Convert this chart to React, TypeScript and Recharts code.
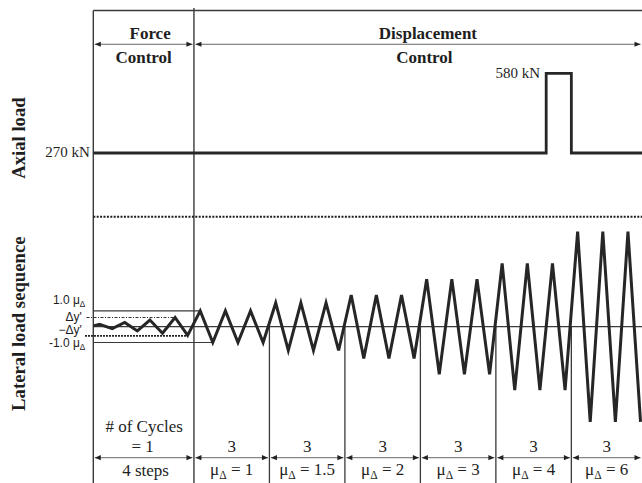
import React from 'react';
import { ComposedChart, Line, XAxis, YAxis, ReferenceLine, ReferenceDot } from 'recharts';

// ---------------- data ----------------
// Force control: 4 single-cycle steps (amplitude in μΔ units)
const forceStepPeaks = [0.15, 0.27, 0.42, 0.58];
const forceStepTroughs = [-0.12, -0.27, -0.41, -0.55];
const forceStart = 0.05;
// Displacement control: ductility levels and cycles per level
const ductilityLevels = [1, 1.5, 2, 3, 4, 6];
const cyclesPerLevel = [3, 3, 3, 3, 3, 3];
const levelLabels = ['1', '1.5', '2', '3', '4', '6'];
const yieldDisp = 0.58; // Δy' (in μΔ units)
// Axial load history (x in cycles, kN)
const axialX = [0, 18, 18, 19, 19, 22];
const axialKN = [270, 270, 580, 580, 270, 270];

// --------- tables built from the data ---------
const lateralData: { x: number; v: number }[] = [{ x: 0, v: forceStart }];
forceStepPeaks.forEach((p, i) => {
  lateralData.push({ x: i + 0.25, v: p });
  lateralData.push({ x: i + 0.75, v: forceStepTroughs[i] });
});
const boundaries: number[] = [0, forceStepPeaks.length];
let cursor = forceStepPeaks.length;
ductilityLevels.forEach((mu, j) => {
  for (let k = 0; k < cyclesPerLevel[j]; k++) {
    lateralData.push({ x: cursor + k + 0.25, v: mu });
    lateralData.push({ x: cursor + k + 0.75, v: -mu });
  }
  cursor += cyclesPerLevel[j];
  boundaries.push(cursor);
});
const axialData = axialX.map((x, i) => ({ x, kn: axialKN[i] }));

// ---------------- layout ----------------
const W = 642;
const H = 483;
const X_DOMAIN: [number, number] = [-3.708, 21.808];
const LAT_DOMAIN: [number, number] = [-9.861, 20.612];
const AX_DOMAIN: [number, number] = [-1013.5, 865.1];
const TOP_V = 19.95; // frame top
const DIV_TOP_V = 20.1;
const SEP_V = 6.94; // dotted separator
const HEADER_V = 17.82;
const FOOT_V = -8.265;
const BOTTOM_V = LAT_DOMAIN[0];
const X_END = X_DOMAIN[1];

const SERIF = '"Liberation Serif", "Times New Roman", serif';
const SANS = '"Liberation Sans", Arial, sans-serif';
const INK = '#262626';
const FRAME = '#3a3a3a';

const arrowShape = (p: any) => {
  const { x1, y1, x2 } = p;
  const a = 1.5;
  const L = 6;
  const h = 2.6;
  const l = Math.min(x1, x2) + a;
  const r = Math.max(x1, x2) - a;
  return (
    <g>
      <line x1={l} y1={y1} x2={r} y2={y1} stroke="#666" strokeWidth={1} />
      <path d={`M${l},${y1} L${l + L},${y1 - h} L${l + L},${y1 + h} Z`} fill="#222" />
      <path d={`M${r},${y1} L${r - L},${y1 - h} L${r - L},${y1 + h} Z`} fill="#222" />
    </g>
  );
};

type TextOpts = {
  dx?: number;
  dy?: number;
  size?: number;
  bold?: boolean;
  anchor?: 'start' | 'middle' | 'end';
  family?: string;
  rotate?: boolean;
};

const textShape = (content: React.ReactNode, o: TextOpts = {}) => (p: any) => {
  const x = p.cx + (o.dx || 0);
  const y = p.cy + (o.dy || 0);
  const common = {
    fontFamily: o.family || SERIF,
    fontSize: o.size || 15,
    fontWeight: o.bold ? 700 : 400,
    fill: '#1e1e1e',
    textAnchor: o.anchor || 'middle',
  } as any;
  if (o.rotate) {
    return (
      <text {...common} transform={`translate(${x},${y}) rotate(-90)`} x={0} y={0}>
        {content}
      </text>
    );
  }
  return (
    <text {...common} x={x} y={y}>
      {content}
    </text>
  );
};

const muSub = (rest: string, size: number) => (
  <>
    <tspan>μ</tspan>
    <tspan fontSize={size * 0.68} dy={size * 0.25}>Δ</tspan>
    <tspan dy={-size * 0.25}>{rest}</tspan>
  </>
);

export default function App() {
  const groups = boundaries.slice(1, -1).map((b, j) => ({
    from: b,
    to: j === ductilityLevels.length - 1 ? X_END : boundaries[j + 2],
    label: levelLabels[j],
    cycles: cyclesPerLevel[j],
  }));

  return (
    <div style={{ position: 'absolute', left: 0, top: 0, width: W, height: H, background: '#fff' }}>
      <ComposedChart width={W} height={H} margin={{ top: 0, right: 0, bottom: 0, left: 0 }}>
        <XAxis dataKey="x" type="number" domain={X_DOMAIN} allowDataOverflow hide />
        <YAxis yAxisId="lat" type="number" domain={LAT_DOMAIN} allowDataOverflow hide />
        <YAxis yAxisId="ax" type="number" domain={AX_DOMAIN} allowDataOverflow hide />

        {/* frame */}
        <ReferenceLine yAxisId="lat" ifOverflow="visible" segment={[{ x: 0, y: TOP_V }, { x: 0, y: BOTTOM_V }]} stroke={FRAME} strokeWidth={1.4} />
        <ReferenceLine yAxisId="lat" ifOverflow="visible" segment={[{ x: 0, y: TOP_V }, { x: X_END, y: TOP_V }]} stroke={FRAME} strokeWidth={1.4} />
        <ReferenceLine yAxisId="lat" ifOverflow="visible" segment={[{ x: boundaries[1], y: DIV_TOP_V }, { x: boundaries[1], y: BOTTOM_V }]} stroke={FRAME} strokeWidth={1.4} />
        {boundaries.slice(2, -1).map((b) => (
          <ReferenceLine key={'b' + b} yAxisId="lat" ifOverflow="visible" segment={[{ x: b, y: 0 }, { x: b, y: BOTTOM_V }]} stroke={FRAME} strokeWidth={1.3} />
        ))}
        <ReferenceLine yAxisId="lat" ifOverflow="visible" segment={[{ x: 0, y: SEP_V }, { x: X_END, y: SEP_V }]} stroke="#1e1e1e" strokeWidth={2} strokeDasharray="2 1.4" />
        <ReferenceLine yAxisId="lat" ifOverflow="visible" segment={[{ x: 0, y: 0 }, { x: X_END, y: 0 }]} stroke={FRAME} strokeWidth={1.3} />

        {/* ±1.0 μΔ box and Δy' lines */}
        <ReferenceLine yAxisId="lat" ifOverflow="visible" segment={[{ x: 0, y: ductilityLevels[0] }, { x: boundaries[1] + 0.25, y: ductilityLevels[0] }]} stroke={FRAME} strokeWidth={1.1} />
        <ReferenceLine yAxisId="lat" ifOverflow="visible" segment={[{ x: 0, y: -ductilityLevels[0] }, { x: boundaries[1] + 0.75, y: -ductilityLevels[0] }]} stroke={FRAME} strokeWidth={1.1} />
        <ReferenceLine yAxisId="lat" ifOverflow="visible" segment={[{ x: -0.27, y: yieldDisp }, { x: 3.25, y: yieldDisp }]} stroke="#333" strokeWidth={1} strokeDasharray="3 1.5 1 1.5" />
        <ReferenceLine yAxisId="lat" ifOverflow="visible" segment={[{ x: -0.33, y: -yieldDisp }, { x: 3.75, y: -yieldDisp }]} stroke="#222" strokeWidth={1.6} strokeDasharray="2 1" />

        {/* header arrows */}
        <ReferenceLine yAxisId="lat" ifOverflow="visible" segment={[{ x: 0, y: HEADER_V }, { x: boundaries[1], y: HEADER_V }]} shape={arrowShape} />
        <ReferenceLine yAxisId="lat" ifOverflow="visible" segment={[{ x: boundaries[1], y: HEADER_V }, { x: X_END, y: HEADER_V }]} shape={arrowShape} />

        {/* footer arrows */}
        <ReferenceLine yAxisId="lat" ifOverflow="visible" segment={[{ x: 0, y: FOOT_V }, { x: boundaries[1], y: FOOT_V }]} shape={arrowShape} />
        {groups.map((g) => (
          <ReferenceLine key={'fa' + g.from} yAxisId="lat" ifOverflow="visible" segment={[{ x: g.from, y: FOOT_V }, { x: g.to, y: FOOT_V }]} shape={arrowShape} />
        ))}

        {/* series */}
        <Line yAxisId="ax" data={axialData} dataKey="kn" type="linear" stroke={INK} strokeWidth={2.8} dot={false} activeDot={false} isAnimationActive={false} />
        <Line yAxisId="lat" data={lateralData} dataKey="v" type="linear" stroke={INK} strokeWidth={3} dot={false} activeDot={false} isAnimationActive={false} />

        {/* header texts */}
        <ReferenceDot yAxisId="lat" ifOverflow="visible" x={boundaries[1] / 2} y={HEADER_V} shape={textShape('Force', { dx: 6.5, dy: -5, size: 17, bold: true })} />
        <ReferenceDot yAxisId="lat" ifOverflow="visible" x={boundaries[1] / 2} y={HEADER_V} shape={textShape('Control', { dy: 18.5, size: 17, bold: true })} />
        <ReferenceDot yAxisId="lat" ifOverflow="visible" x={13.3} y={HEADER_V} shape={textShape('Displacement', { dy: -5.5, size: 17, bold: true })} />
        <ReferenceDot yAxisId="lat" ifOverflow="visible" x={13.16} y={HEADER_V} shape={textShape('Control', { dy: 18.5, size: 17, bold: true })} />

        {/* axial labels */}
        <ReferenceDot yAxisId="ax" ifOverflow="visible" x={0} y={axialKN[0]} shape={textShape('270 kN', { dx: -3.5, dy: 4, size: 15, anchor: 'end' })} />
        <ReferenceDot yAxisId="ax" ifOverflow="visible" x={axialX[2]} y={axialKN[2]} shape={textShape('580 kN', { dx: -6, dy: 4.5, size: 15, anchor: 'end' })} />

        {/* rotated side titles */}
        <ReferenceDot yAxisId="lat" ifOverflow="visible" x={-2.715} y={11.9} shape={textShape('Axial load', { size: 18.7, bold: true, rotate: true })} />
        <ReferenceDot yAxisId="lat" ifOverflow="visible" x={-2.715} y={0} shape={textShape('Lateral load sequence', { dy: -3, size: 18.7, bold: true, rotate: true })} />

        {/* lateral level labels */}
        <ReferenceDot yAxisId="lat" ifOverflow="visible" x={0} y={ductilityLevels[0]} shape={textShape(<>1.0 {muSub('', 12)}</>, { dx: -8, dy: -7, size: 12, anchor: 'end', family: SANS })} />
        <ReferenceDot yAxisId="lat" ifOverflow="visible" x={0} y={yieldDisp} shape={textShape("Δy'", { dx: -11.5, dy: 3, size: 12, anchor: 'end', family: SANS })} />
        <ReferenceDot yAxisId="lat" ifOverflow="visible" x={0} y={-yieldDisp} shape={textShape("−Δy'", { dx: -11.5, dy: -2, size: 12, anchor: 'end', family: SANS })} />
        <ReferenceDot yAxisId="lat" ifOverflow="visible" x={0} y={-ductilityLevels[0]} shape={textShape(<>-1.0 {muSub('', 12)}</>, { dx: -8, dy: 4.5, size: 12, anchor: 'end', family: SANS })} />

        {/* footer texts */}
        <ReferenceDot yAxisId="lat" ifOverflow="visible" x={boundaries[1] / 2} y={FOOT_V} shape={textShape('# of Cycles', { dx: 0.5, dy: -26, size: 17 })} />
        <ReferenceDot yAxisId="lat" ifOverflow="visible" x={boundaries[1] / 2} y={FOOT_V} shape={textShape('= 1', { dx: -1, dy: -6, size: 17 })} />
        <ReferenceDot yAxisId="lat" ifOverflow="visible" x={boundaries[1] / 2} y={FOOT_V} shape={textShape(`${forceStepPeaks.length} steps`, { dx: 2, dy: 18.5, size: 17 })} />
        {groups.map((g) => (
          <ReferenceDot key={'c' + g.from} yAxisId="lat" ifOverflow="visible" x={(g.from + g.to) / 2} y={FOOT_V} shape={textShape(String(g.cycles), { dy: -6, size: 17 })} />
        ))}
        {groups.map((g) => (
          <ReferenceDot key={'m' + g.from} yAxisId="lat" ifOverflow="visible" x={(g.from + g.to) / 2} y={FOOT_V} shape={textShape(muSub(` = ${g.label}`, 17), { dy: 17.5, size: 17 })} />
        ))}
      </ComposedChart>
    </div>
  );
}
